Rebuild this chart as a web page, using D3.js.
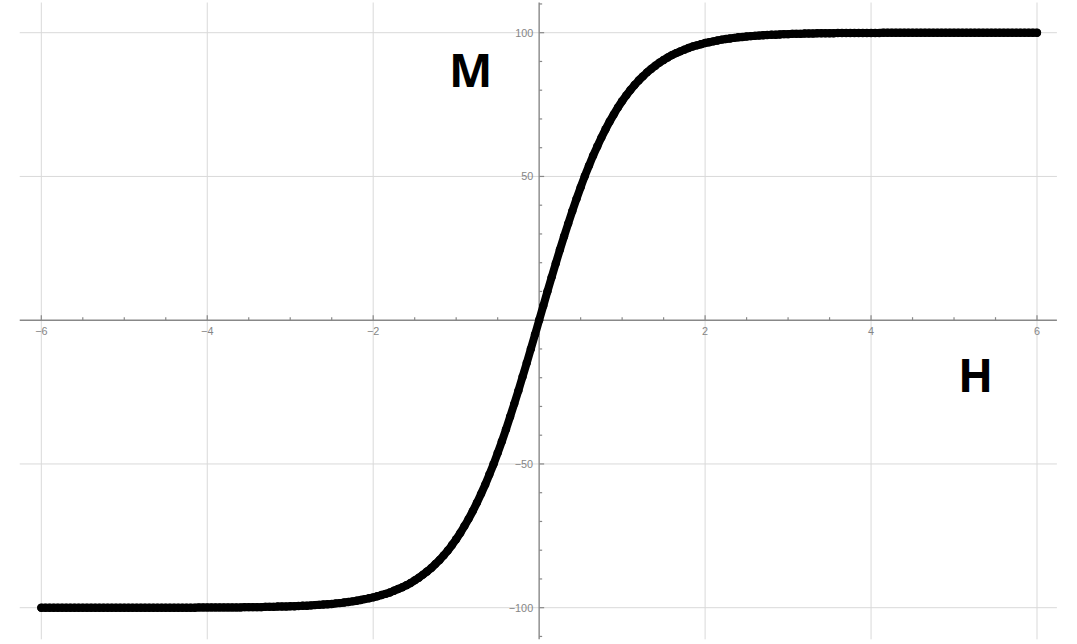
<!DOCTYPE html>
<html>
<head>
<meta charset="utf-8">
<script src="https://cdn.jsdelivr.net/npm/d3@7"></script>
<style>
  html, body { margin: 0; padding: 0; background: #fff; }
  svg { display: block; }
</style>
</head>
<body>
<svg id="chart" width="1077" height="644"></svg>
<script>
// ---- data ----
const hStart = -6, hStep = 0.05;          // sampling of H
const mValues = [
  -100,-100,-100,-100,-100,-100,-100,-100,-100,-100,
  -100,-100,-100,-100,-100,-100,-100,-100,-100,-100,
  -100,-100,-100,-100,-100,-100,-100,-100,-100,-100,
  -100,-100,-100,-100,-100,-100,-100,-100,-99.9,-99.9,
  -99.9,-99.9,-99.9,-99.9,-99.9,-99.9,-99.9,-99.9,-99.9,-99.8,
  -99.8,-99.8,-99.8,-99.8,-99.7,-99.7,-99.7,-99.6,-99.6,-99.6,
  -99.5,-99.5,-99.4,-99.3,-99.3,-99.2,-99.1,-99.0,-98.9,-98.8,
  -98.7,-98.5,-98.4,-98.2,-98.0,-97.8,-97.6,-97.3,-97.0,-96.7,
  -96.4,-96.0,-95.6,-95.2,-94.7,-94.1,-93.5,-92.9,-92.2,-91.4,
  -90.5,-89.6,-88.5,-87.4,-86.2,-84.8,-83.4,-81.8,-80.1,-78.2,
  -76.2,-74.0,-71.6,-69.1,-66.4,-63.5,-60.4,-57.2,-53.7,-50.1,
  -46.2,-42.2,-38.0,-33.6,-29.1,-24.5,-19.7,-14.9,-10.0,-5.0,
  0,
  5.0,10.0,14.9,19.7,24.5,29.1,33.6,38.0,42.2,46.2,
  50.1,53.7,57.2,60.4,63.5,66.4,69.1,71.6,74.0,76.2,
  78.2,80.1,81.8,83.4,84.8,86.2,87.4,88.5,89.6,90.5,
  91.4,92.2,92.9,93.5,94.1,94.7,95.2,95.6,96.0,96.4,
  96.7,97.0,97.3,97.6,97.8,98.0,98.2,98.4,98.5,98.7,
  98.8,98.9,99.0,99.1,99.2,99.3,99.3,99.4,99.5,99.5,
  99.6,99.6,99.6,99.7,99.7,99.7,99.8,99.8,99.8,99.8,
  99.8,99.9,99.9,99.9,99.9,99.9,99.9,99.9,99.9,99.9,
  99.9,99.9,100,100,100,100,100,100,100,100,
  100,100,100,100,100,100,100,100,100,100,
  100,100,100,100,100,100,100,100,100,100,
  100,100,100,100,100,100,100,100,100,100
];
const xTicks = [-6, -4, -2, 2, 4, 6];
const xMinorTicks = d3.range(-12, 13).map(d => d / 2);
const yTicks = [-100, -50, 50, 100];
const yMinorTicks = d3.range(-11, 12).map(d => d * 10);
const xLabel = "H", yLabel = "M";

const data = mValues.map((m, i) => ({ h: +(hStart + i * hStep).toFixed(2), m }));

// ---- layout ----
const svg = d3.select("#chart");
const x = d3.scaleLinear().domain([-6, 6]).range([41.3, 1037]);
const y = d3.scaleLinear().domain([-100, 100]).range([607.7, 32.7]);
const xMin = -6.26, xMax = 6.24, yMin = -111, yMax = 110.5;

const axisColor = "#888888", gridColor = "#d9d9d9", labelColor = "#858585";

// grid
const grid = svg.append("g");
grid.selectAll(".vg").data(xTicks).join("line")
  .attr("x1", d => x(d)).attr("x2", d => x(d))
  .attr("y1", y(yMax)).attr("y2", y(yMin))
  .attr("stroke", gridColor).attr("stroke-width", 1);
grid.selectAll(".hg").data(yTicks).join("line")
  .attr("x1", x(xMin)).attr("x2", x(xMax))
  .attr("y1", d => y(d)).attr("y2", d => y(d))
  .attr("stroke", gridColor).attr("stroke-width", 1);

// x axis
const ax = svg.append("g");
ax.append("line")
  .attr("x1", x(xMin)).attr("x2", x(xMax))
  .attr("y1", y(0)).attr("y2", y(0))
  .attr("stroke", axisColor).attr("stroke-width", 1.4);
ax.selectAll(".xm").data(xMinorTicks.filter(d => d !== 0)).join("line")
  .attr("x1", d => x(d)).attr("x2", d => x(d))
  .attr("y1", y(0)).attr("y2", d => y(0) - (xTicks.includes(d) ? 5 : 3))
  .attr("stroke", axisColor).attr("stroke-width", 1.2);
ax.selectAll(".xl").data(xTicks).join("text")
  .attr("x", d => x(d)).attr("y", y(0) + 14.5)
  .attr("text-anchor", "middle")
  .attr("font-family", "Liberation Sans, Arial, sans-serif")
  .attr("font-size", 10.8).attr("fill", labelColor)
  .text(d => d3.format("")(d));

// y axis
const ay = svg.append("g");
ay.append("line")
  .attr("x1", x(0)).attr("x2", x(0))
  .attr("y1", y(yMax)).attr("y2", y(yMin))
  .attr("stroke", axisColor).attr("stroke-width", 1.4);
ay.selectAll(".ym").data(yMinorTicks.filter(d => d !== 0)).join("line")
  .attr("x1", x(0)).attr("x2", d => x(0) + (yTicks.includes(d) ? 5 : 3))
  .attr("y1", d => y(d)).attr("y2", d => y(d))
  .attr("stroke", axisColor).attr("stroke-width", 1.2);
ay.selectAll(".yl").data(yTicks).join("text")
  .attr("x", x(0) - 6).attr("y", d => y(d) + 3.8)
  .attr("text-anchor", "end")
  .attr("font-family", "Liberation Sans, Arial, sans-serif")
  .attr("font-size", 10.8).attr("fill", labelColor)
  .text(d => d3.format("")(d));

// curve: thick line plus dots
const line = d3.line().x(d => x(d.h)).y(d => y(d.m)).curve(d3.curveMonotoneX);
svg.append("path").datum(data)
  .attr("d", line).attr("fill", "none")
  .attr("stroke", "#000").attr("stroke-width", 8)
  .attr("stroke-linecap", "round").attr("stroke-linejoin", "round");
svg.append("g").selectAll("circle").data(data).join("circle")
  .attr("cx", d => x(d.h)).attr("cy", d => y(d.m)).attr("r", 4.2)
  .attr("fill", "#000");

// axis names
svg.append("text").attr("x", 449).attr("y", 87)
  .attr("font-family", "Open Sans, sans-serif").attr("font-weight", 700)
  .attr("font-size", 46).attr("fill", "#000").text(yLabel);
svg.append("text").attr("x", 958).attr("y", 392)
  .attr("font-family", "Open Sans, sans-serif").attr("font-weight", 700)
  .attr("font-size", 46).attr("fill", "#000").text(xLabel);
</script>
</body>
</html>
